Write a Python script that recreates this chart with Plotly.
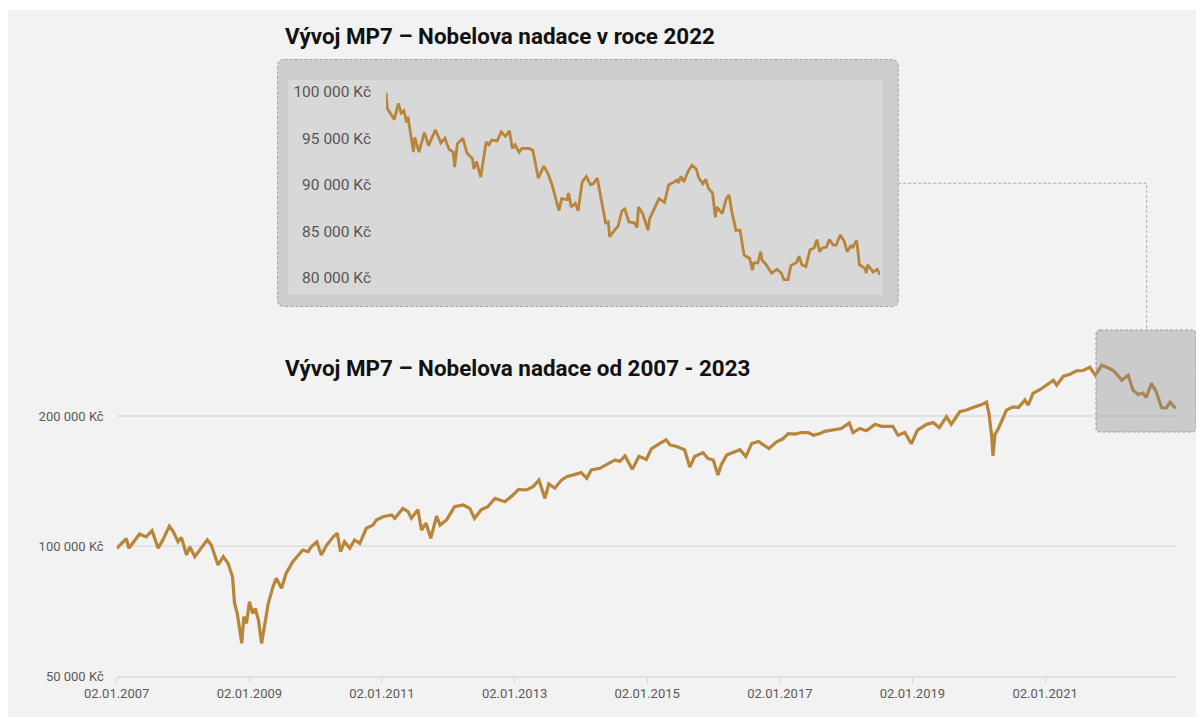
import plotly.graph_objects as go
import math

# ---------------- data ----------------
main_dates = [
    "2007-01-02", "2007-02-24", "2007-03-10", "2007-05-08", "2007-06-13", "2007-07-16", "2007-08-18",
    "2007-09-13", "2007-10-19", "2007-11-10", "2007-12-06", "2007-12-24", "2008-01-22", "2008-02-09",
    "2008-03-07", "2008-04-05", "2008-05-15", "2008-06-06", "2008-07-13", "2008-08-11", "2008-09-06",
    "2008-10-01", "2008-10-12", "2008-10-27", "2008-11-07", "2008-11-21", "2008-12-02", "2008-12-17",
    "2009-01-02", "2009-01-20", "2009-02-03", "2009-02-21", "2009-03-10", "2009-03-28", "2009-04-16",
    "2009-05-12", "2009-05-30", "2009-06-28", "2009-07-23", "2009-08-29", "2009-09-27", "2009-10-23",
    "2009-11-21", "2009-12-09", "2010-01-08", "2010-02-02", "2010-03-04", "2010-04-09", "2010-05-01",
    "2010-05-19", "2010-06-10", "2010-07-09", "2010-08-04", "2010-09-02", "2010-10-08", "2010-11-14",
    "2010-12-02", "2011-01-08", "2011-02-24", "2011-03-14", "2011-04-27", "2011-05-26", "2011-06-13",
    "2011-07-19", "2011-08-08", "2011-09-02", "2011-09-28", "2011-10-30", "2011-11-18", "2011-12-24",
    "2012-02-06", "2012-03-25", "2012-04-30", "2012-05-26", "2012-07-01", "2012-08-07", "2012-09-16",
    "2012-11-09", "2012-12-24", "2013-01-23", "2013-03-08", "2013-04-13", "2013-05-16", "2013-06-18",
    "2013-07-09", "2013-08-11", "2013-09-17", "2013-10-16", "2013-11-21", "2014-01-04", "2014-02-03",
    "2014-02-28", "2014-04-16", "2014-05-23", "2014-07-09", "2014-08-04", "2014-09-02", "2014-10-12",
    "2014-11-18", "2014-12-28", "2015-01-26", "2015-03-11", "2015-04-16", "2015-05-08", "2015-06-13",
    "2015-07-27", "2015-08-25", "2015-09-20", "2015-11-06", "2015-12-02", "2016-01-01", "2016-01-27",
    "2016-02-14", "2016-03-15", "2016-05-01", "2016-05-27", "2016-06-28", "2016-07-31", "2016-09-06",
    "2016-10-01", "2016-11-03", "2016-12-13", "2017-01-19", "2017-02-17", "2017-03-26", "2017-05-01",
    "2017-06-07", "2017-07-06", "2017-08-11", "2017-09-06", "2017-10-23", "2017-12-06", "2018-01-19",
    "2018-02-09", "2018-03-18", "2018-04-23", "2018-06-10", "2018-07-16", "2018-09-16", "2018-10-15",
    "2018-11-21", "2018-12-27", "2019-01-30", "2019-03-22", "2019-04-27", "2019-05-30", "2019-07-09",
    "2019-08-04", "2019-09-20", "2019-10-27", "2019-12-02", "2020-01-19", "2020-02-14", "2020-02-28",
    "2020-03-14", "2020-03-21", "2020-04-01", "2020-04-20", "2020-06-03", "2020-07-09", "2020-08-08",
    "2020-09-13", "2020-10-01", "2020-10-27", "2020-12-06", "2021-01-12", "2021-02-17", "2021-03-07",
    "2021-04-13", "2021-05-19", "2021-06-25", "2021-07-31", "2021-09-06", "2021-10-05", "2021-11-10",
    "2021-12-17", "2022-01-12", "2022-02-10", "2022-02-28", "2022-04-05", "2022-05-01", "2022-05-30",
    "2022-06-25", "2022-07-13", "2022-08-11", "2022-09-06", "2022-10-05", "2022-10-31", "2022-11-22",
    "2022-12-22",
]
main_values = [
    98800, 104000, 98800, 106600, 105000, 108500, 98800,
    103300, 111200, 107900, 102300, 104700, 95300, 99600,
    94500, 97900, 103300, 100500, 90400, 94500, 91200,
    84900, 73700, 69800, 65000, 59500, 68600, 66200,
    74300, 69800, 71700, 67400, 59500, 66200, 73700,
    80500, 84200, 79800, 86400, 92000, 95300, 97900,
    97000, 99600, 102300, 95300, 100500, 105000, 107000,
    97000, 102300, 98800, 103300, 101400, 109900, 111800,
    114900, 116900, 118000, 115900, 122200, 120100, 115900,
    121300, 108900, 112900, 104200, 117300, 111800, 114900,
    123300, 124400, 122200, 115900, 121300, 123300, 128900,
    126600, 131200, 135300, 134800, 137200, 142100, 128900,
    139200, 136100, 142100, 144700, 146100, 147900, 143500,
    150000, 151300, 154100, 158200, 157000, 161600, 150600,
    161300, 158700, 168100, 172700, 176200, 171400, 170000,
    167100, 152300, 161100, 164500, 159500, 158200, 146100,
    154100, 162400, 165300, 167100, 161100, 172700, 174600,
    171400, 168100, 174100, 177100, 182100, 181600, 183100,
    183100, 180500, 182100, 184300, 185700, 187100, 192800,
    183100, 187100, 184900, 191300, 189300, 189300, 180500,
    183100, 172500, 185500, 191300, 193100, 187900, 199200,
    191300, 204600, 206400, 209300, 212500, 215300, 202300,
    179200, 161600, 181600, 187100, 206400, 210000, 209300,
    217900, 211800, 225600, 230400, 235800, 242000, 235800,
    247400, 249900, 254400, 254900, 259300, 248600, 262200,
    258300, 254900, 247400, 242000, 248600, 229600, 224200,
    226000, 220700, 238100, 227800, 209300, 208700, 215300,
    208100,
]

inset_dates = [
    "2022-01-03", "2022-01-04", "2022-01-09", "2022-01-12", "2022-01-14", "2022-01-16", "2022-01-18",
    "2022-01-19", "2022-01-23", "2022-01-24", "2022-01-27", "2022-01-31", "2022-02-03", "2022-02-08",
    "2022-02-12", "2022-02-15", "2022-02-18", "2022-02-21", "2022-02-22", "2022-02-24", "2022-02-28",
    "2022-03-03", "2022-03-07", "2022-03-08", "2022-03-10", "2022-03-13", "2022-03-17", "2022-03-19",
    "2022-03-21", "2022-03-25", "2022-03-28", "2022-03-31", "2022-04-03", "2022-04-05", "2022-04-07",
    "2022-04-10", "2022-04-12", "2022-04-17", "2022-04-20", "2022-04-24", "2022-04-28", "2022-05-01",
    "2022-05-04", "2022-05-09", "2022-05-11", "2022-05-15", "2022-05-16", "2022-05-18", "2022-05-21",
    "2022-05-23", "2022-05-26", "2022-05-29", "2022-06-01", "2022-06-03", "2022-06-06", "2022-06-12",
    "2022-06-14", "2022-06-15", "2022-06-19", "2022-06-21", "2022-06-24", "2022-06-26", "2022-06-29",
    "2022-07-03", "2022-07-05", "2022-07-06", "2022-07-09", "2022-07-13", "2022-07-14", "2022-07-17",
    "2022-07-21", "2022-07-25", "2022-07-28", "2022-07-31", "2022-08-03", "2022-08-04", "2022-08-06",
    "2022-08-08", "2022-08-11", "2022-08-14", "2022-08-17", "2022-08-19", "2022-08-22", "2022-08-24",
    "2022-08-26", "2022-08-29", "2022-08-31", "2022-09-01", "2022-09-05", "2022-09-08", "2022-09-10",
    "2022-09-12", "2022-09-15", "2022-09-18", "2022-09-21", "2022-09-25", "2022-09-27", "2022-09-28",
    "2022-10-01", "2022-10-03", "2022-10-04", "2022-10-07", "2022-10-11", "2022-10-15", "2022-10-18",
    "2022-10-20", "2022-10-23", "2022-10-25", "2022-10-29", "2022-10-31", "2022-11-02", "2022-11-05",
    "2022-11-08", "2022-11-11", "2022-11-13", "2022-11-15", "2022-11-17", "2022-11-20", "2022-11-22",
    "2022-11-25", "2022-11-27", "2022-11-30", "2022-12-03", "2022-12-05", "2022-12-08", "2022-12-09",
    "2022-12-12", "2022-12-14", "2022-12-18", "2022-12-19", "2022-12-20", "2022-12-24", "2022-12-27",
    "2022-12-29",
]
inset_values = [
    99900, 98200, 97000, 98750, 97700, 97960, 96700,
    97300, 93500, 95100, 93500, 95600, 94200, 95900,
    94500, 95000, 93800, 93500, 91900, 94400, 95000,
    93400, 92800, 91700, 92500, 90800, 94600, 94300,
    94800, 94700, 95700, 95200, 95800, 93900, 94300,
    93500, 93900, 93900, 93700, 90700, 92000, 91200,
    90000, 87200, 88500, 88400, 89100, 87600, 88000,
    87200, 90300, 90900, 90000, 90100, 90700, 85900,
    86000, 84400, 85200, 85500, 87200, 87400, 86000,
    85900, 85400, 87600, 86900, 85100, 86300, 87300,
    88500, 88100, 90000, 90200, 90500, 90200, 90900,
    90300, 91400, 92100, 91700, 90700, 90100, 90600,
    89600, 89100, 86500, 87600, 86900, 88500, 88900,
    87100, 85100, 85100, 82400, 82100, 80800, 81600,
    81600, 82800, 81900, 81400, 80500, 80900, 80500,
    79800, 79800, 81300, 81600, 82300, 81400, 81200,
    83000, 83200, 84100, 82800, 83200, 83300, 84100,
    83500, 83500, 84600, 83900, 82800, 83500, 83200,
    84000, 81400, 81000, 80500, 81400, 80600, 80900,
    80300,
]

main_tick_dates = ["2007-01-02", "2009-01-02", "2011-01-02", "2013-01-02",
                   "2015-01-02", "2017-01-02", "2019-01-02", "2021-01-02"]
main_tick_labels = ["02.01.2007", "02.01.2009", "02.01.2011", "02.01.2013",
                    "02.01.2015", "02.01.2017", "02.01.2019", "02.01.2021"]
main_y_ticks = [50000, 100000, 200000]
main_y_labels = ["50 000 Kč", "100 000 Kč", "200 000 Kč"]
inset_y_ticks = [80000, 85000, 90000, 95000, 100000]
inset_y_labels = ["80 000 Kč", "85 000 Kč", "90 000 Kč", "95 000 Kč", "100 000 Kč"]

title_main = "Vývoj MP7 – Nobelova nadace od 2007 - 2023"
title_inset = "Vývoj MP7 – Nobelova nadace v roce 2022"

# ---------------- layout helpers ----------------
W, H = 1204, 717
OFF = 8  # page body margin shifts the figure by this many pixels
LINE = "#b8853a"
BG = "#f2f2f2"


def px(x):
    return (x - OFF) / W


def py(y):
    return 1 - (y - OFF) / H


def rounded_rect(x0, y0, x1, y1, r):
    X0, X1 = px(x0), px(x1)
    Y0, Y1 = py(y0), py(y1)
    rx, ry = r / W, r / H
    return (f"M {X0+rx},{Y0} L {X1-rx},{Y0} Q {X1},{Y0} {X1},{Y0-ry} "
            f"L {X1},{Y1+ry} Q {X1},{Y1} {X1-rx},{Y1} L {X0+rx},{Y1} "
            f"Q {X0},{Y1} {X0},{Y1+ry} L {X0},{Y0-ry} Q {X0},{Y0} {X0+rx},{Y0} Z")


fig = go.Figure()

fig.add_trace(go.Scatter(
    x=main_dates, y=main_values, mode="lines",
    line=dict(color=LINE, width=3.2), xaxis="x", yaxis="y",
    hoverinfo="skip", showlegend=False,
))
fig.add_trace(go.Scatter(
    x=inset_dates, y=inset_values, mode="lines",
    line=dict(color=LINE, width=2.8), xaxis="x2", yaxis="y2",
    hoverinfo="skip", showlegend=False,
))

main_top, main_bottom = 340, 676
log_lo = math.log10(50000)
log_hi = log_lo + (main_bottom - main_top) / 130 * math.log10(2)

ins_top, ins_bottom = 80, 295
v_per_px = 20000 / (277.7 - 91.7)
ins_hi = 100000 + (91.7 - ins_top) * v_per_px
ins_lo = 80000 - (ins_bottom - 277.7) * v_per_px

tick_font = dict(family="Roboto", size=13, color="#5a5a5a")

fig.update_layout(
    template="none",
    width=W, height=H, autosize=False,
    margin=dict(l=0, r=0, t=0, b=0, pad=0),
    paper_bgcolor=BG, plot_bgcolor="rgba(0,0,0,0)",
    font=dict(family="Roboto"),
    showlegend=False,
    xaxis=dict(
        domain=[px(116.7), px(1176)], type="date", automargin=False,
        range=["2007-01-02", "2022-12-24"],
        tickvals=main_tick_dates, ticktext=main_tick_labels,
        showgrid=False, zeroline=False,
        showline=True, linecolor="#e0e0e0", linewidth=1.5,
        ticks="outside", ticklen=5, tickcolor="#d6d6d6", tickwidth=1,
        tickfont=tick_font, fixedrange=True,
    ),
    yaxis=dict(
        domain=[py(main_bottom), py(main_top)], type="log", automargin=False,
        range=[log_lo, log_hi],
        tickvals=main_y_ticks, ticktext=main_y_labels,
        showgrid=True, gridcolor="#e2e2e2", gridwidth=1.5,
        zeroline=False, showline=False, ticks="",
        ticklabelstandoff=12,
        tickfont=tick_font, fixedrange=True,
    ),
    xaxis2=dict(
        domain=[px(386), px(880)], type="date", anchor="y2", automargin=False,
        range=["2022-01-03", "2022-12-29"],
        showgrid=False, zeroline=False, showline=False,
        showticklabels=False, ticks="", fixedrange=True,
    ),
    yaxis2=dict(
        domain=[py(ins_bottom), py(ins_top)], anchor="x2", automargin=False,
        range=[ins_lo, ins_hi],
        tickvals=inset_y_ticks, ticktext=inset_y_labels,
        showgrid=False, zeroline=False, showline=False, ticks="",
        ticklabelstandoff=14,
        tickfont=dict(family="Roboto", size=15.5, color="#555555"),
        fixedrange=True,
    ),
)

shapes = [
    # thin white strip at the very top
    dict(type="rect", xref="paper", yref="paper", x0=0, x1=1, y0=py(10), y1=1,
         fillcolor="white", line=dict(width=0), layer="below"),
    # inset outer rounded box
    dict(type="path", xref="paper", yref="paper", path=rounded_rect(277.5, 59.5, 898.3, 306.5, 7),
         fillcolor="#cdcdcd", line=dict(color="#a3a3a3", width=1, dash="3px,2px"), layer="below"),
    # inset inner plot area
    dict(type="rect", xref="paper", yref="paper", x0=px(288), x1=px(883), y0=py(295), y1=py(80),
         fillcolor="#d8d8d8", line=dict(width=0), layer="below"),
    # connector line
    dict(type="path", xref="paper", yref="paper",
         path=f"M {px(898.3)},{py(183.3)} L {px(1146.7)},{py(183.3)} L {px(1146.7)},{py(330)}",
         line=dict(color="#acacac", width=1, dash="3px,2px"), layer="above"),
    # highlight box on main chart
    dict(type="path", xref="paper", yref="paper", path=rounded_rect(1096, 330, 1196, 432, 4),
         fillcolor="rgba(139,139,139,0.38)", line=dict(color="#9a9a9a", width=1, dash="3px,2px"),
         layer="above"),
]
fig.update_layout(shapes=shapes)

fig.add_annotation(xref="paper", yref="paper", x=px(283), y=py(36),
                   xanchor="left", yanchor="middle", showarrow=False,
                   text=f"<b>{title_inset}</b>",
                   font=dict(family="Roboto", size=22.4, color="#111111"))
fig.add_annotation(xref="paper", yref="paper", x=px(283), y=py(368),
                   xanchor="left", yanchor="middle", showarrow=False,
                   text=f"<b>{title_main}</b>",
                   font=dict(family="Roboto", size=22.4, color="#111111"))

fig.write_html("out.html")
